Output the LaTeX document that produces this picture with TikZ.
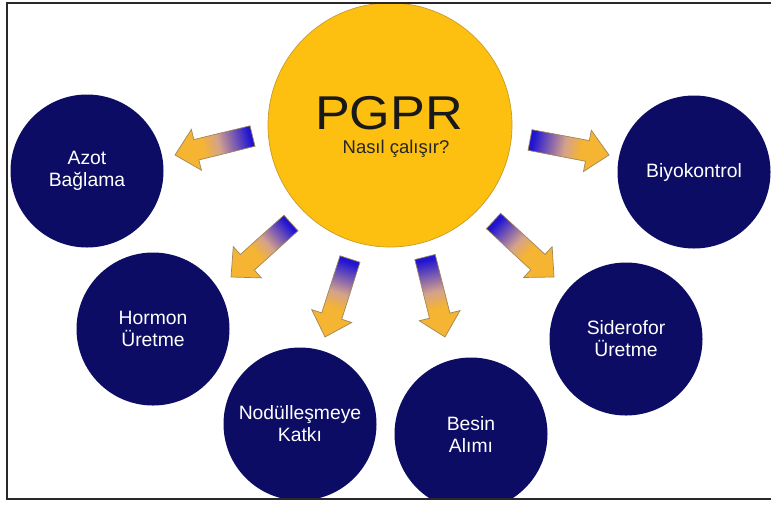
\documentclass[tikz,border=0pt]{standalone}
\usepackage{fontspec}
\setmainfont{Liberation Sans}
\usepackage{xcolor}
\usepackage{tikz}
\usetikzlibrary{calc}

\definecolor{navy}{RGB}{12,12,100}
\definecolor{sun}{RGB}{253,192,16}
\definecolor{sunline}{RGB}{200,155,40}
\definecolor{arrowblue}{RGB}{32,20,210}
\definecolor{arrowviolet}{RGB}{115,85,180}
\definecolor{arrowpink}{RGB}{212,162,140}
\definecolor{arroworange}{RGB}{245,180,50}
\definecolor{arrowline}{RGB}{160,135,90}
\definecolor{framegray}{RGB}{40,40,40}

\pgfdeclarehorizontalshading{blueorange}{100bp}{color(0bp)=(arrowblue); color(25bp)=(arrowblue); color(35bp)=(arrowviolet); color(47bp)=(arrowpink); color(58bp)=(arroworange); color(100bp)=(arroworange)}

% block arrow from #1 (tail) to #2 (tip), shading turned by #3
\newcommand{\garrow}[3]{%
  \coordinate (#1n) at ($(#2)!0.44cm!(#1)$);
  \shadedraw[shading=blueorange, shading angle=#3, draw=arrowline, line width=0.4pt]
    ($(#1)!0.21cm!90:(#2)$) -- ($(#1n)!0.21cm!-90:(#1)$) -- ($(#1n)!0.42cm!-90:(#1)$) -- (#2)
    -- ($(#1n)!0.42cm!90:(#1)$) -- ($(#1n)!0.21cm!90:(#1)$) -- ($(#1)!0.21cm!-90:(#2)$) -- cycle;}

\begin{document}
\begin{tikzpicture}[
  navyball/.style={circle, fill=navy, text=white, minimum size=3.06cm, inner sep=0pt,
    align=center, font=\fontsize{11}{12.5}\selectfont},
  sunball/.style={circle, fill=sun, draw=sunline, line width=0.4pt, minimum size=4.88cm, inner sep=0pt}]
  \useasboundingbox (0,0) rectangle (15.42,-10.12);
  \begin{scope}
    \clip (0.14,-0.06) rectangle (15.48,-9.98);
    % centre
    \node[sunball] (pgpr) at (7.80,-2.50) {};
    \node[font=\fontsize{27}{30}\selectfont, xscale=1.1, text=black!90] (pgpr-name) at (7.78,-2.27) {PGPR};
    \node[font=\fontsize{10.5}{12}\selectfont, anchor=base, text=black!85] (pgpr-ask) at (7.92,-3.06) {Nasıl çalışır?};
    % effects
    \node[navyball] (azot) at (1.74,-3.42) {Azot\\Bağlama};
    \node[navyball] (biyo) at (13.88,-3.44) {Biyokontrol};
    \node[navyball] (hormon) at (3.06,-6.58) {Hormon\\Üretme};
    \node[navyball] (nodul) at (6.00,-8.48) {Nodülleşmeye\\Katkı};
    \node[navyball] (besin) at (9.42,-8.68) {Besin\\Alımı};
    \node[navyball] (sider) at (12.52,-6.78) {Siderofor\\Üretme};
    % arrows
    \coordinate (azot-from) at (5.05,-2.72);
    \coordinate (azot-to) at (3.50,-3.10);
    \coordinate (biyo-from) at (10.60,-2.80);
    \coordinate (biyo-to) at (12.18,-3.10);
    \coordinate (hormon-from) at (5.82,-4.46);
    \coordinate (hormon-to) at (4.62,-5.54);
    \coordinate (nodul-from) at (7.00,-5.18);
    \coordinate (nodul-to) at (6.50,-6.74);
    \coordinate (besin-from) at (8.50,-5.14);
    \coordinate (besin-to) at (8.90,-6.74);
    \coordinate (sider-from) at (9.87,-4.42);
    \coordinate (sider-to) at (11.08,-5.54);
    \garrow{azot-from}{azot-to}{194}
    \garrow{biyo-from}{biyo-to}{-11}
    \garrow{hormon-from}{hormon-to}{222}
    \garrow{nodul-from}{nodul-to}{252}
    \garrow{besin-from}{besin-to}{-76}
    \garrow{sider-from}{sider-to}{-43}
  \end{scope}
  \draw[framegray, line width=1.2pt] (0.14,-0.06) rectangle (15.48,-9.98);
\end{tikzpicture}
\end{document}
